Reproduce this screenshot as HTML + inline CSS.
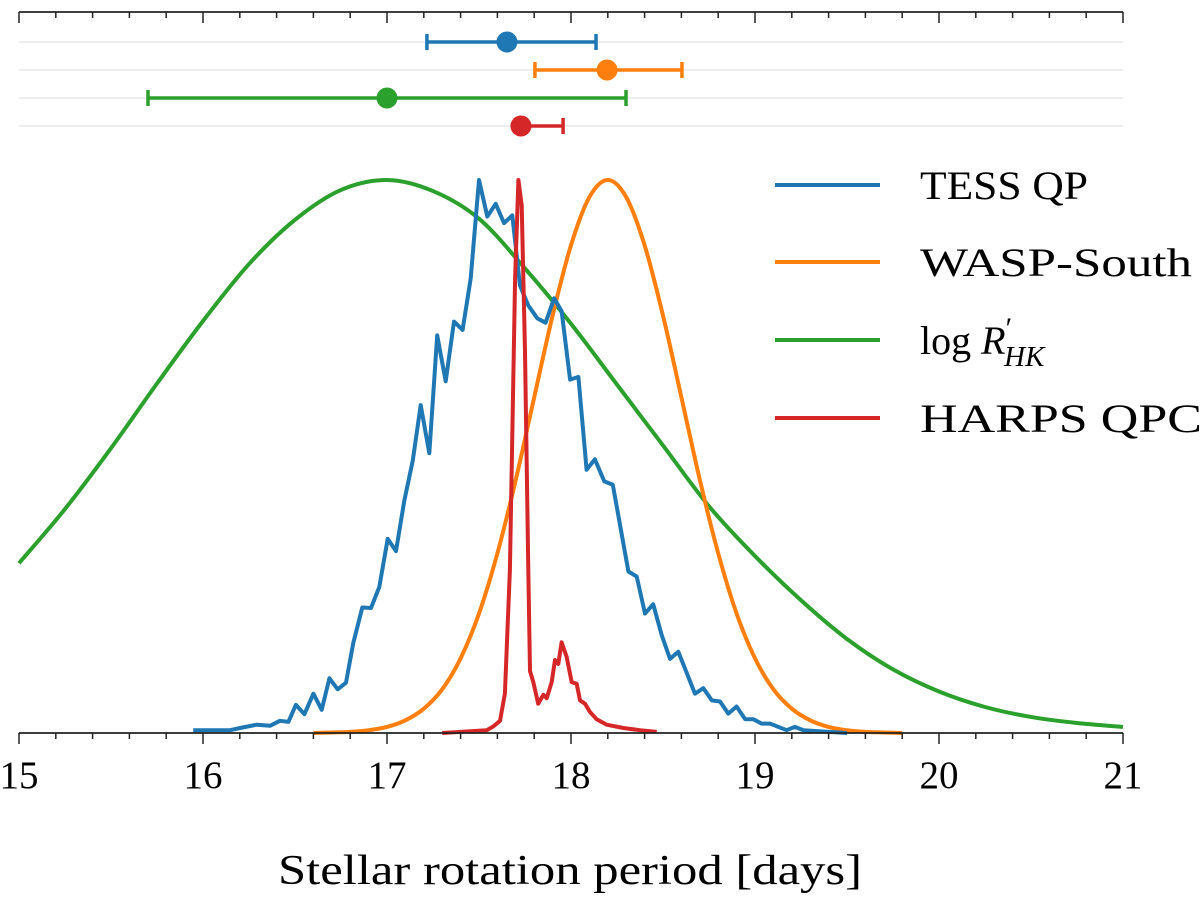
<!DOCTYPE html>
<html><head><meta charset="utf-8"><style>
html,body{margin:0;padding:0;background:#fff;}
svg{display:block;font-family:"Liberation Serif",serif;}
</style></head><body>
<svg id="chart" width="1200" height="899" viewBox="0 0 1200 899">
<g id="grid"></g>
<g id="curves"></g>
<g id="errs"></g>
<g id="axes"></g>
<g id="legend"></g>
<text x="278" y="884" font-size="42" textLength="584" lengthAdjust="spacingAndGlyphs">Stellar rotation period [days]</text>
</svg>
<script>
const xTicks = [15,16,17,18,19,20,21];
const seriesNames = ["TESS QP","WASP-South","log R'HK","HARPS QPC"];
const seriesColors = ["#1f77b4","#ff7f0e","#2ca02c","#d62728"];
const blueX = [15.947,16.147,16.201,16.292,16.364,16.418,16.464,16.505,16.551,16.600,16.645,16.687,16.732,16.777,16.817,16.866,16.913,16.958,17.004,17.049,17.094,17.140,17.183,17.230,17.273,17.319,17.364,17.411,17.455,17.500,17.545,17.591,17.636,17.681,17.723,17.768,17.817,17.862,17.908,17.949,17.995,18.040,18.085,18.130,18.181,18.227,18.312,18.357,18.402,18.447,18.493,18.538,18.583,18.674,18.719,18.765,18.810,18.855,18.900,18.946,18.991,19.036,19.082,19.172,19.217,19.263,19.500];
const blueY = [0.005,0.005,0.009,0.015,0.013,0.022,0.020,0.051,0.034,0.071,0.042,0.099,0.079,0.091,0.163,0.227,0.226,0.264,0.351,0.329,0.420,0.493,0.593,0.506,0.719,0.636,0.744,0.729,0.822,1.000,0.934,0.957,0.922,0.936,0.809,0.773,0.750,0.742,0.786,0.763,0.639,0.644,0.476,0.495,0.455,0.449,0.292,0.283,0.216,0.233,0.177,0.134,0.147,0.071,0.081,0.059,0.057,0.035,0.048,0.025,0.025,0.017,0.017,0.005,0.011,0.005,0.0];
const redX = [17.3,17.542,17.578,17.614,17.641,17.668,17.696,17.714,17.732,17.750,17.768,17.777,17.795,17.822,17.850,17.868,17.895,17.913,17.931,17.949,17.976,18.004,18.031,18.049,18.076,18.103,18.139,18.194,18.284,18.375,18.466];
const redY = [0.0,0.005,0.012,0.022,0.071,0.295,0.822,1.0,0.954,0.690,0.295,0.112,0.092,0.053,0.069,0.063,0.092,0.132,0.125,0.164,0.138,0.092,0.089,0.059,0.053,0.038,0.025,0.015,0.009,0.005,0.002];
const orangeX = [16.6,16.7,16.8,16.9,17.0,17.1,17.2,17.3,17.4,17.5,17.6,17.7,17.8,17.9,18.0,18.1,18.2,18.3,18.4,18.5,18.6,18.7,18.8,18.9,19.0,19.1,19.2,19.3,19.4,19.5,19.6,19.7,19.8];
const orangeY = [0.0,0.001,0.002,0.005,0.011,0.023,0.044,0.079,0.135,0.216,0.325,0.458,0.607,0.755,0.882,0.969,1.0,0.969,0.882,0.755,0.607,0.458,0.325,0.216,0.135,0.079,0.044,0.023,0.011,0.005,0.002,0.001,0.0];
const greenX = [15.0,15.25,15.5,15.75,16.0,16.25,16.5,16.75,17.0,17.25,17.5,17.75,18.0,18.25,18.5,18.75,19.0,19.25,19.5,19.75,20.0,20.25,20.5,20.75,21.0];
const greenY = [0.307,0.405,0.515,0.632,0.745,0.848,0.928,0.982,1.0,0.98,0.93,0.84,0.74,0.63,0.52,0.41,0.32,0.24,0.17,0.115,0.075,0.047,0.029,0.018,0.011];
const errCenter = [17.652,18.196,17.0,17.728];
const errLow = [17.217,17.804,15.701,17.70];
const errHigh = [18.136,18.603,18.299,17.957];

const X0=15, X1=21, PX0=19, PX1=1123, BASE=733, TOP=180;
const sx = v => PX0 + (v-X0)/(X1-X0)*(PX1-PX0);
const sy = v => BASE - v*(BASE-TOP);
const NS="http://www.w3.org/2000/svg";
function mk(tag, parent){const e=document.createElementNS(NS,tag);parent.appendChild(e);return e;}
function poly(xs,ys){return xs.map((x,i)=>(i?"L":"M")+sx(x).toFixed(1)+","+sy(ys[i]).toFixed(1)).join("");}
function smooth(xs,ys){
  const p=xs.map((x,i)=>[sx(x),sy(ys[i])]);let d="M"+p[0][0]+","+p[0][1];
  for(let i=0;i<p.length-1;i++){const a=p[i-1]||p[i],b=p[i],c=p[i+1],e=p[i+2]||c;
    d+="C"+(b[0]+(c[0]-a[0])/6)+","+(b[1]+(c[1]-a[1])/6)+" "+(c[0]-(e[0]-b[0])/6)+","+(c[1]-(e[1]-b[1])/6)+" "+c[0]+","+c[1];}
  return d;}

const grid=document.getElementById('grid'), curves=document.getElementById('curves'), errs=document.getElementById('errs'), axes=document.getElementById('axes'), legend=document.getElementById('legend');
const rowY=[42,70,98,126];
rowY.forEach(y=>{const l=mk('line',grid);


l.setAttribute('x1',PX0);l.setAttribute('x2',PX1);l.setAttribute('y1',y);l.setAttribute('y2',y);l.setAttribute('stroke','#e8e8e8');l.setAttribute('stroke-width','1.5');});

const paths=[poly(blueX,blueY),smooth(orangeX,orangeY),smooth(greenX,greenY),poly(redX,redY)];
const order=[2,1,0,3];
order.forEach(i=>{const p=mk('path',curves);


p.setAttribute('d',paths[i]);p.setAttribute('fill','none');p.setAttribute('stroke',seriesColors[i]);p.setAttribute('stroke-width','4');p.setAttribute('stroke-linejoin','round');});

errCenter.forEach((c,i)=>{const g=mk('g',errs);


const y=rowY[i],col=seriesColors[i];
const l=mk('line',g);l.setAttribute('x1',sx(errLow[i]));l.setAttribute('x2',sx(errHigh[i]));l.setAttribute('y1',y);l.setAttribute('y2',y);l.setAttribute('stroke',col);l.setAttribute('stroke-width','3.5');
[errLow[i],errHigh[i]].forEach(v=>{const t=mk('line',g);t.setAttribute('x1',sx(v));t.setAttribute('x2',sx(v));t.setAttribute('y1',y-8);t.setAttribute('y2',y+8);t.setAttribute('stroke',col);t.setAttribute('stroke-width','3.5');});
const d=mk('circle',g);d.setAttribute('cx',sx(c));d.setAttribute('cy',y);d.setAttribute('r','10.5');d.setAttribute('fill',col);});

function axisLine(y,dir){
  const l=mk('line',axes);
  
  
  l.setAttribute('x1',PX0);l.setAttribute('x2',PX1);l.setAttribute('y1',y);l.setAttribute('y2',y);l.setAttribute('stroke','#222');l.setAttribute('stroke-width','1.8');
  for(let k=0;k<=30;k++){const v=X0+k*0.2;const major=k%5===0;const t=mk('line',axes);
    
    
    t.setAttribute('x1',sx(v));t.setAttribute('x2',sx(v));t.setAttribute('y1',y);t.setAttribute('y2',y+(major?11:6));t.setAttribute('stroke','#222');t.setAttribute('stroke-width','1.5');}
}
axisLine(12,-1);axisLine(BASE,1);
xTicks.forEach(v=>{const t=mk('text',axes);


t.setAttribute('x',sx(v));t.setAttribute('y',788);t.setAttribute('font-size','39');t.setAttribute('text-anchor','middle');t.textContent=v;});

const legY=[185,262,340,418];
const legW=[168,272,0,282];
seriesNames.forEach((n,i)=>{const g=mk('g',legend);


const l=mk('line',g);l.setAttribute('x1',775);l.setAttribute('x2',880);l.setAttribute('y1',legY[i]);l.setAttribute('y2',legY[i]);l.setAttribute('stroke',seriesColors[i]);l.setAttribute('stroke-width','4');
const t=mk('text',g);t.setAttribute('x',920);t.setAttribute('y',legY[i]+14);t.setAttribute('font-size','40');
if(i===2){t.innerHTML='log <tspan font-style="italic">R</tspan><tspan dy="-16" font-size="30">′</tspan><tspan dy="28" dx="-8" font-size="29" font-style="italic">HK</tspan>';}
else {t.textContent=n;t.setAttribute('textLength',legW[i]);t.setAttribute('lengthAdjust','spacingAndGlyphs');}});
</script>
</body></html>
